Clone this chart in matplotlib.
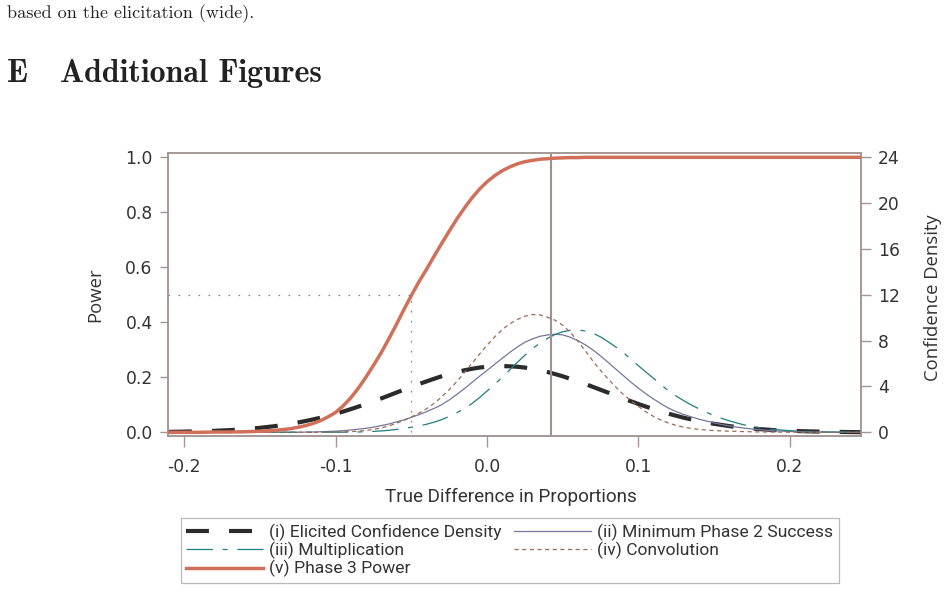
import matplotlib
matplotlib.use("Agg")
import matplotlib.pyplot as plt
from matplotlib.lines import Line2D

plt.rcParams['axes.unicode_minus'] = False
plt.rcParams['lines.scale_dashes'] = False

# ---------------- data ----------------
x = [-0.21, -0.20, -0.19, -0.18, -0.17, -0.16, -0.15, -0.14, -0.13,
     -0.125, -0.12, -0.115, -0.11, -0.105, -0.10, -0.095, -0.09, -0.085, -0.08,
     -0.075, -0.07, -0.065, -0.06, -0.055, -0.05, -0.045, -0.04, -0.035, -0.03,
     -0.025, -0.02, -0.015, -0.01, -0.005,
     0.0, 0.005, 0.01, 0.015, 0.02, 0.025, 0.03, 0.035, 0.04, 0.045,
     0.05, 0.055, 0.06, 0.065, 0.07, 0.075, 0.08, 0.085, 0.09, 0.095,
     0.10, 0.105, 0.11, 0.115, 0.12, 0.125, 0.13, 0.135, 0.14, 0.145,
     0.15, 0.155, 0.16, 0.165,
     0.17, 0.18, 0.19, 0.20, 0.21, 0.22, 0.23, 0.24, 0.25]

elicited = [0.04, 0.06, 0.09, 0.13, 0.19, 0.28, 0.39, 0.54, 0.74,
            0.85, 0.98, 1.12, 1.27, 1.44, 1.62, 1.81, 2.02, 2.24, 2.47,
            2.71, 2.95, 3.20, 3.46, 3.71, 3.96, 4.21, 4.44, 4.67, 4.89,
            5.08, 5.26, 5.41, 5.54, 5.65,
            5.72, 5.76, 5.78, 5.76, 5.72, 5.65, 5.54, 5.41, 5.26, 5.08,
            4.89, 4.67, 4.44, 4.21, 3.96, 3.71, 3.46, 3.20, 2.95, 2.71,
            2.47, 2.24, 2.02, 1.81, 1.62, 1.44, 1.27, 1.12, 0.98, 0.85,
            0.74, 0.64, 0.54, 0.46,
            0.39, 0.28, 0.19, 0.13, 0.09, 0.06, 0.04, 0.02, 0.01]

min_phase2 = [0.0, 0.0, 0.0, 0.0, 0.0, 0.0, 0.0, 0.0, 0.01,
              0.01, 0.02, 0.03, 0.05, 0.07, 0.10, 0.14, 0.20, 0.27, 0.35,
              0.45, 0.58, 0.72, 0.90, 1.08, 1.30, 1.54, 1.80, 2.08, 2.40,
              2.82, 3.30, 3.80, 4.35, 4.88,
              5.40, 5.93, 6.45, 6.97, 7.45, 7.86, 8.15, 8.38, 8.50, 8.56,
              8.50, 8.30, 8.00, 7.63, 7.18, 6.66, 6.10, 5.52, 4.95, 4.38,
              3.85, 3.35, 2.90, 2.48, 2.10, 1.80, 1.55, 1.34, 1.15, 0.98,
              0.82, 0.68, 0.55, 0.45,
              0.36, 0.22, 0.13, 0.07, 0.04, 0.02, 0.01, 0.0, 0.0]

multiplication = [0.0, 0.0, 0.0, 0.0, 0.0, 0.0, 0.0, 0.0, 0.0,
                  0.0, 0.0, 0.0, 0.0, 0.01, 0.01, 0.01, 0.02, 0.03, 0.05,
                  0.08, 0.12, 0.17, 0.25, 0.34, 0.44, 0.56, 0.70, 0.88, 1.10,
                  1.38, 1.70, 2.07, 2.50, 3.03,
                  3.60, 4.18, 4.80, 5.45, 6.10, 6.73, 7.30, 7.80, 8.20, 8.54,
                  8.78, 8.90, 8.93, 8.84, 8.65, 8.32, 7.90, 7.45, 6.95, 6.38,
                  5.80, 5.25, 4.70, 4.14, 3.60, 3.16, 2.75, 2.38, 2.05, 1.74,
                  1.45, 1.21, 1.00, 0.81,
                  0.64, 0.40, 0.24, 0.14, 0.08, 0.04, 0.02, 0.01, 0.0]

convolution = [0.0, 0.0, 0.0, 0.0, 0.0, 0.0, 0.0, 0.0, 0.0,
               0.0, 0.0, 0.0, 0.0, 0.01, 0.02, 0.04, 0.06, 0.10, 0.16,
               0.25, 0.38, 0.55, 0.78, 1.03, 1.33, 1.67, 2.05, 2.52, 3.08,
               3.72, 4.42, 5.20, 6.00, 6.82,
               7.60, 8.32, 8.95, 9.47, 9.85, 10.13, 10.28, 10.25, 10.05, 9.78,
               9.35, 8.72, 7.95, 7.10, 6.20, 5.40, 4.65, 3.95, 3.30, 2.75,
               2.25, 1.78, 1.38, 1.06, 0.80, 0.60, 0.45, 0.34, 0.25, 0.19,
               0.15, 0.12, 0.10, 0.08,
               0.06, 0.03, 0.02, 0.01, 0.01, 0.0, 0.0, 0.0, 0.0]

power = [0.0, 0.0, 0.0, 0.001, 0.001, 0.002, 0.004, 0.007, 0.013,
         0.018, 0.024, 0.032, 0.042, 0.056, 0.072, 0.096, 0.125, 0.160, 0.200,
         0.243, 0.288, 0.338, 0.390, 0.445, 0.497, 0.547, 0.592, 0.640, 0.686,
         0.731, 0.775, 0.815, 0.852, 0.884,
         0.911, 0.933, 0.951, 0.965, 0.976, 0.984, 0.989, 0.993, 0.995, 0.997,
         0.998, 0.999, 0.999, 1.0, 1.0, 1.0, 1.0, 1.0, 1.0, 1.0,
         1.0, 1.0, 1.0, 1.0, 1.0, 1.0, 1.0, 1.0, 1.0, 1.0,
         1.0, 1.0, 1.0, 1.0,
         1.0, 1.0, 1.0, 1.0, 1.0, 1.0, 1.0, 1.0, 1.0]

min_success_x = 0.042
power_half_x = -0.05
power_half = 0.5

xticks = [-0.2, -0.1, 0.0, 0.1, 0.2]
xtick_labels = ["-0.2", "-0.1", "0.0", "0.1", "0.2"]
yticks = [0.0, 0.2, 0.4, 0.6, 0.8, 1.0]
ytick_labels = ["0.0", "0.2", "0.4", "0.6", "0.8", "1.0"]
y2ticks = [0, 4, 8, 12, 16, 20, 24]
density_max = 24

labels = ["(i) Elicited Confidence Density", "(ii) Minimum Phase 2 Success",
          "(iii) Multiplication", "(iv) Convolution", "(v) Phase 3 Power"]

# ---------------- styles ----------------
C_FRAME = "#a39594"
C_TEXT = "#333333"
C_ORANGE = "#d0705a"
C_BLACK = "#2b2b2b"
C_GRAY = "#76779a"
C_TEAL = "#1f7f80"
C_BROWN = "#9c6c52"

W, H = 949, 593
fig = plt.figure(figsize=(W / 100, H / 100), dpi=100)

# page text
fig.text(7 / W, 1 - 18 / H, "based on the elicitation (wide).", family="cmr10",
         fontsize=13.1, color="#222222", ha="left", va="baseline")
fig.text(7 / W, 1 - 82 / H, "E", family="cmb10", fontsize=23,
         color="#222222", ha="left", va="baseline")
fig.text(60 / W, 1 - 82 / H, "Additional Figures", family="cmb10", fontsize=23,
         color="#222222", ha="left", va="baseline")

left, right, top, bottom = 168, 861, 152.5, 435.5
ax = fig.add_axes([left / W, 1 - bottom / H, (right - left) / W, (bottom - top) / H])
ax2 = ax.twinx()

ylo, yhi = -0.0116, 1.0175
ax.set_xlim(-0.2106, 0.2469)
ax.set_ylim(ylo, yhi)
ax2.set_ylim(ylo * density_max, yhi * density_max)

# density curves on secondary axis
ax2.plot(x, elicited, color=C_BLACK, lw=3.0, dashes=(16.5, 14.5),
         solid_capstyle="butt", dash_capstyle="butt", zorder=3)
ax2.plot(x, min_phase2, color=C_GRAY, lw=0.9, zorder=3)
ax2.plot(x, multiplication, color=C_TEAL, lw=0.9, dashes=(19, 7, 3.6, 7), zorder=3)
ax2.plot(x, convolution, color=C_BROWN, lw=0.9, dashes=(3, 2.5), zorder=3)

# power on primary axis
ax.plot(x, power, color=C_ORANGE, lw=2.5, zorder=4)
ax.set_zorder(ax2.get_zorder() + 1)
ax.patch.set_visible(False)

# reference lines
ax.axvline(min_success_x, color="#9e918f", lw=1.5, zorder=2)
ax.plot([ax.get_xlim()[0], power_half_x], [power_half, power_half], color="#8a7f7f",
        lw=0.9, dashes=(1.2, 6), zorder=2)
ax.plot([power_half_x, power_half_x], [0, power_half], color="#8a7f7f",
        lw=0.9, dashes=(1.2, 6), zorder=2)

# axes styling
for a in (ax, ax2):
    for s in a.spines.values():
        s.set_color(C_FRAME)
        s.set_linewidth(1.1)

ax.set_xticks(xticks)
ax.set_xticklabels(xtick_labels)
ax.set_yticks(yticks)
ax.set_yticklabels(ytick_labels)
ax2.set_yticks(y2ticks)
ax.tick_params(axis="both", direction="out", length=6, width=1, color=C_FRAME,
               labelcolor=C_TEXT, labelsize=12.3, pad=5)
ax.tick_params(axis="x", length=8, pad=8)
ax2.tick_params(axis="y", direction="out", length=7, width=1, color=C_FRAME,
                labelcolor=C_TEXT, labelsize=12.3, pad=5)
for lab in ax.get_xticklabels() + ax.get_yticklabels() + ax2.get_yticklabels():
    lab.set_family("DejaVu Sans")

fig.text(95 / W, 1 - 295 / H, "Power", rotation=90, family="Open Sans",
         fontsize=13.3, color=C_TEXT, ha="center", va="center")
fig.text(933 / W, 1 - 298 / H, "Confidence Density", rotation=90, family="Open Sans",
         fontsize=13.3, color=C_TEXT, ha="center", va="center")
fig.text(511 / W, 1 - 497 / H, "True Difference in Proportions", family="Roboto",
         fontsize=13.6, color=C_TEXT, ha="center", va="center")

# legend
h_el = Line2D([], [], color=C_BLACK, lw=3.0, dashes=(16.5, 14.5), dash_capstyle="butt")
h_mp = Line2D([], [], color=C_GRAY, lw=0.9)
h_mu = Line2D([], [], color=C_TEAL, lw=0.9, dashes=(19, 7, 3.6, 7))
h_co = Line2D([], [], color=C_BROWN, lw=0.9, dashes=(3, 2.5))
h_pw = Line2D([], [], color=C_ORANGE, lw=2.5)
handles = [h_el, h_mu, h_pw, h_mp, h_co]
labs = [labels[0], labels[2], labels[4], labels[1], labels[3]]
leg = fig.legend(handles, labs, ncol=2, loc="upper left",
                 bbox_to_anchor=(181 / W, 1 - 518 / H), bbox_transform=fig.transFigure,
                 frameon=True, fancybox=False, edgecolor="#a8a8a8",
                 prop={"family": "Roboto", "size": 12.6}, handlelength=4.4,
                 handletextpad=0.35, labelspacing=0.07, columnspacing=0.7,
                 borderpad=0.3, borderaxespad=0)
leg.get_frame().set_linewidth(0.9)
for t in leg.get_texts():
    t.set_color(C_TEXT)

fig.savefig("out.png", dpi=100)
